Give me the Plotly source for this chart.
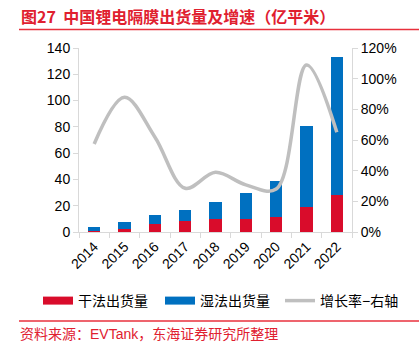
import plotly.graph_objects as go

years = ["2014", "2015", "2016", "2017", "2018", "2019", "2020", "2021", "2022"]
dry = [1.0, 2.2, 5.8, 8.1, 9.7, 9.7, 11.2, 19.0, 28.4]
wet = [3.0, 5.4, 7.1, 8.4, 12.9, 20.0, 27.4, 61.4, 104.8]
growth = [57.4, 87.8, 62.0, 28.5, 38.9, 30.7, 28.0, 108.9, 65.0]
series_names = ["干法出货量", "湿法出货量", "增长率−右轴"]

RED = "#D90C2B"
BLUE = "#0070C0"
GRAY = "#BFBFBF"
FONT = "Liberation Sans, Arial, Noto Sans CJK SC"

L, R, T, B = 79, 67, 48, 118
W, H = 419, 350
PW, PH = W - L - R, H - T - B

def px(x):
    return (x - L) / PW

def py(y):
    return (H - B - y) / PH

fig = go.Figure()
fig.add_trace(go.Bar(x=years, y=dry, marker=dict(color=RED, line=dict(width=0)),
                     width=0.4, showlegend=False, yaxis="y", name=series_names[0]))
fig.add_trace(go.Bar(x=years, y=wet, marker=dict(color=BLUE, line=dict(width=0)),
                     width=0.4, showlegend=False, yaxis="y", name=series_names[1]))
fig.add_trace(go.Scatter(x=years, y=growth, mode="lines", yaxis="y2", name=series_names[2],
                         line=dict(color=GRAY, width=3.5, shape="spline", smoothing=1),
                         showlegend=False))
# legend entries (one legend each, to place them freely)
fig.add_trace(go.Scatter(x=[None], y=[None], mode="lines", name=series_names[0],
                         line=dict(color=RED, width=8), legend="legend"))
fig.add_trace(go.Scatter(x=[None], y=[None], mode="lines", name=series_names[1],
                         line=dict(color=BLUE, width=8), legend="legend2"))
fig.add_trace(go.Scatter(x=[None], y=[None], mode="lines", name=series_names[2],
                         line=dict(color=GRAY, width=3.5), legend="legend3"))

axis_common = dict(showline=True, linecolor="#D9D9D9", linewidth=1, ticks="outside",
                   tickcolor="#D9D9D9", ticklen=5, showgrid=False, zeroline=False,
                   tickfont=dict(family=FONT, size=14, color="#000000"))

def leg(xpix):
    return dict(orientation="h", x=px(xpix), y=py(301), xanchor="left", yanchor="middle",
                font=dict(family=FONT, size=14, color="#000000"),
                bgcolor="rgba(0,0,0,0)")

fig.update_layout(
    width=W, height=H, margin=dict(l=L, r=R, t=T, b=B),
    paper_bgcolor="white", plot_bgcolor="white",
    barmode="stack",
    font=dict(family=FONT, size=14, color="#000000"),
    xaxis=dict(**axis_common, tickson="boundaries", tickangle=-45, type="category"),
    yaxis=dict(**axis_common, range=[0, 140], dtick=20, mirror=False),
    yaxis2=dict(**axis_common, range=[0, 120], dtick=20, overlaying="y", side="right",
                ticksuffix="%"),
    legend=leg(38),
    legend2=leg(160),
    legend3=leg(280),
    shapes=[
        dict(type="line", xref="paper", yref="paper", x0=px(19), x1=px(419),
             y0=py(29.5), y1=py(29.5), line=dict(color="#E8303C", width=1.5)),
        dict(type="line", xref="paper", yref="paper", x0=px(19), x1=px(419),
             y0=py(321), y1=py(321), line=dict(color="#E8303C", width=1.5)),
    ],
    annotations=[
        dict(text="<b>图27  中国锂电隔膜出货量及增速（亿平米）</b>", xref="paper", yref="paper",
             x=px(19), y=py(16), xanchor="left", yanchor="middle", showarrow=False,
             font=dict(family="Noto Sans CJK SC", size=16, color="#E0202F")),
        dict(text="资料来源：EVTank，东海证券研究所整理", xref="paper", yref="paper",
             x=px(18), y=py(334), xanchor="left", yanchor="middle", showarrow=False,
             font=dict(family=FONT, size=14, color="#E0202F")),
    ],
)

fig.write_html("out.html")
